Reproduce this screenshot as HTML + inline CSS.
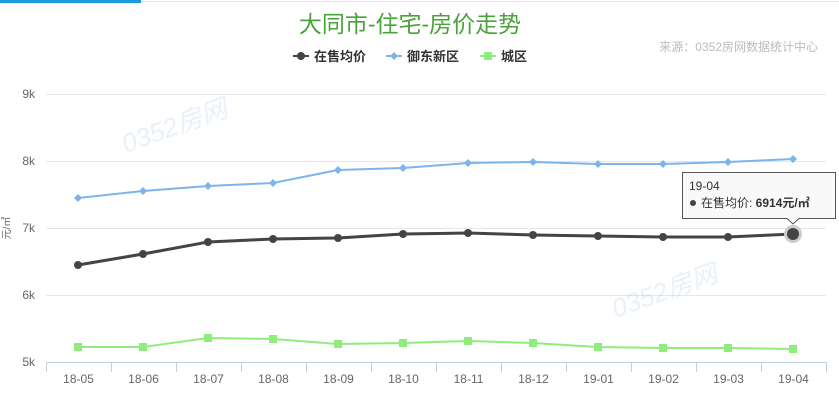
<!DOCTYPE html>
<html><head><meta charset="utf-8"><style>
body{margin:0;background:#fff;width:839px;height:402px;overflow:hidden;font-family:"Liberation Sans","Noto Sans CJK SC",sans-serif}
</style></head><body>
<svg width="839" height="402" xmlns="http://www.w3.org/2000/svg" font-family="Liberation Sans, Noto Sans CJK SC, sans-serif">
<rect x="0" y="0" width="141" height="3" fill="#1a9be0"/>
<rect x="141" y="1" width="698" height="1" fill="#d6eaf6"/>
<text x="410" y="32" text-anchor="middle" font-size="23" fill="#4aa33a">大同市-住宅-房价走势</text>
<g font-size="13" font-weight="bold" fill="#333">
<line x1="293" y1="56" x2="309" y2="56" stroke="#444" stroke-width="2"/><circle cx="301" cy="56" r="4" fill="#444"/>
<text x="314" y="61">在售均价</text>
<line x1="386" y1="56" x2="402" y2="56" stroke="#7cb5ec" stroke-width="2"/><path d="M394 52 L398 56 L394 60 L390 56Z" fill="#7cb5ec"/>
<text x="407" y="61">御东新区</text>
<line x1="480" y1="56" x2="496" y2="56" stroke="#90ed7d" stroke-width="2"/><rect x="484" y="52" width="8" height="8" fill="#90ed7d"/>
<text x="501" y="61">城区</text>
</g>
<text x="818" y="51" text-anchor="end" font-size="12" fill="#bbb">来源：0352房网数据统计中心</text>
<g stroke="#e6e6e6" stroke-width="1">
<line x1="46" y1="94.5" x2="826" y2="94.5"/><line x1="46" y1="161.5" x2="826" y2="161.5"/><line x1="46" y1="228.5" x2="826" y2="228.5"/><line x1="46" y1="295.5" x2="826" y2="295.5"/>
</g>
<line x1="46" y1="362.5" x2="826" y2="362.5" stroke="#c0d0e0"/>
<g stroke="#c0d0e0">
<line x1="46.5" y1="362" x2="46.5" y2="372"/><line x1="111.5" y1="362" x2="111.5" y2="372"/><line x1="176.5" y1="362" x2="176.5" y2="372"/><line x1="241.5" y1="362" x2="241.5" y2="372"/><line x1="306.5" y1="362" x2="306.5" y2="372"/><line x1="371.5" y1="362" x2="371.5" y2="372"/><line x1="436.5" y1="362" x2="436.5" y2="372"/><line x1="501.5" y1="362" x2="501.5" y2="372"/><line x1="566.5" y1="362" x2="566.5" y2="372"/><line x1="631.5" y1="362" x2="631.5" y2="372"/><line x1="696.5" y1="362" x2="696.5" y2="372"/><line x1="761.5" y1="362" x2="761.5" y2="372"/><line x1="826.5" y1="362" x2="826.5" y2="372"/>
</g>
<g font-size="12" fill="#666" text-anchor="end">
<text x="35" y="98">9k</text><text x="35" y="165">8k</text><text x="35" y="232">7k</text><text x="35" y="299">6k</text><text x="35" y="366">5k</text>
</g>
<text transform="translate(10,228) rotate(-90)" font-size="10" fill="#666" text-anchor="middle">元/㎡</text>
<g font-size="12" fill="#666" text-anchor="middle">
<text x="78.5" y="383">18-05</text><text x="143.5" y="383">18-06</text><text x="208.5" y="383">18-07</text><text x="273.5" y="383">18-08</text><text x="338.5" y="383">18-09</text><text x="403.5" y="383">18-10</text><text x="468.5" y="383">18-11</text><text x="533.5" y="383">18-12</text><text x="598.5" y="383">19-01</text><text x="663.5" y="383">19-02</text><text x="728.5" y="383">19-03</text><text x="793.5" y="383">19-04</text>
</g>
<g opacity="0.2">
<text x="120" y="140" font-size="26" fill="#8ab4e0" font-style="italic" transform="rotate(-20 160 130)">0352房网</text>
<text x="610" y="305" font-size="26" fill="#8ab4e0" font-style="italic" transform="rotate(-20 650 295)">0352房网</text>
</g>
<polyline fill="none" stroke="#7cb5ec" stroke-width="2" points="78,198 143,191 208,186 273,183 338,170 403,168 468,163 533,162 598,164 663,164 728,162 793,159"/>
<g fill="#7cb5ec">
<path d="M78 194l4 4-4 4-4-4z"/><path d="M143 187l4 4-4 4-4-4z"/><path d="M208 182l4 4-4 4-4-4z"/><path d="M273 179l4 4-4 4-4-4z"/><path d="M338 166l4 4-4 4-4-4z"/><path d="M403 164l4 4-4 4-4-4z"/><path d="M468 159l4 4-4 4-4-4z"/><path d="M533 158l4 4-4 4-4-4z"/><path d="M598 160l4 4-4 4-4-4z"/><path d="M663 160l4 4-4 4-4-4z"/><path d="M728 158l4 4-4 4-4-4z"/><path d="M793 155l4 4-4 4-4-4z"/>
</g>
<polyline fill="none" stroke="#444" stroke-width="3" points="78,265 143,254 208,242 273,239 338,238 403,234 468,233 533,235 598,236 663,237 728,237 793,234"/>
<g fill="#444">
<circle cx="78" cy="265" r="4"/><circle cx="143" cy="254" r="4"/><circle cx="208" cy="242" r="4"/><circle cx="273" cy="239" r="4"/><circle cx="338" cy="238" r="4"/><circle cx="403" cy="234" r="4"/><circle cx="468" cy="233" r="4"/><circle cx="533" cy="235" r="4"/><circle cx="598" cy="236" r="4"/><circle cx="663" cy="237" r="4"/><circle cx="728" cy="237" r="4"/>
</g>
<circle cx="793" cy="234" r="9" fill="#ccc"/><circle cx="793" cy="234" r="6" fill="#444"/>
<polyline fill="none" stroke="#90ed7d" stroke-width="2" points="78,347 143,347 208,338 273,339 338,344 403,343 468,341 533,343 598,347 663,348 728,348 793,349"/>
<g fill="#90ed7d">
<rect x="74" y="343" width="8" height="8"/><rect x="139" y="343" width="8" height="8"/><rect x="204" y="334" width="8" height="8"/><rect x="269" y="335" width="8" height="8"/><rect x="334" y="340" width="8" height="8"/><rect x="399" y="339" width="8" height="8"/><rect x="464" y="337" width="8" height="8"/><rect x="529" y="339" width="8" height="8"/><rect x="594" y="343" width="8" height="8"/><rect x="659" y="344" width="8" height="8"/><rect x="724" y="344" width="8" height="8"/><rect x="789" y="345" width="8" height="8"/>
</g>
<path d="M682.5 172.5 H835.5 V218.5 H799 L793 224 L787 218.5 H682.5 Z" fill="#f9f9f9" fill-opacity="0.92" stroke="#555" stroke-width="1"/>
<text x="689" y="190" font-size="12" fill="#333">19-04</text>
<circle cx="693" cy="203" r="3" fill="#444"/>
<text x="701" y="207" font-size="12" fill="#333">在售均价: <tspan font-weight="bold">6914元/㎡</tspan></text>
</svg>
</body></html>
